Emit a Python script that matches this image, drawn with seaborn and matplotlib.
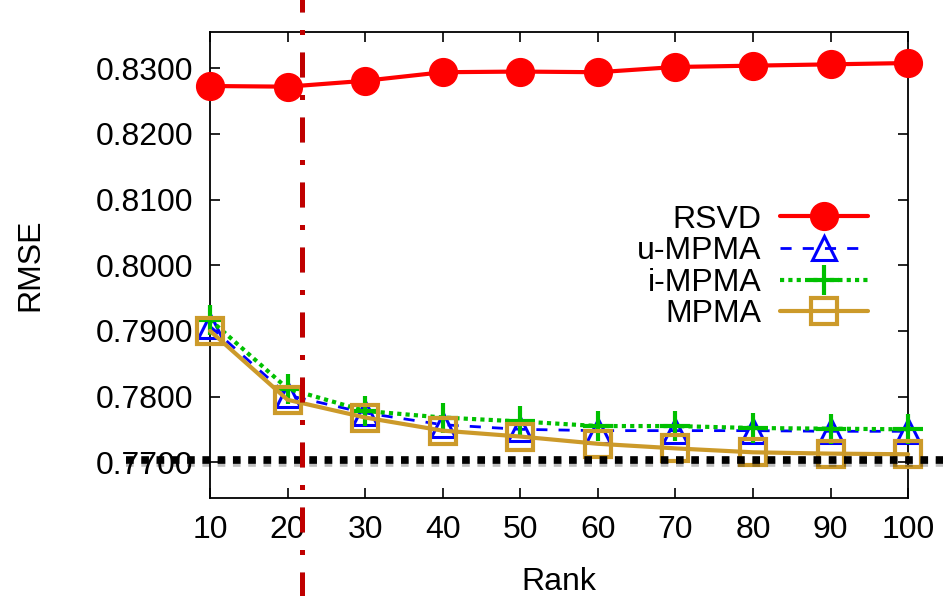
import matplotlib
matplotlib.use("Agg")
import matplotlib.pyplot as plt
import matplotlib.patheffects as pe
import seaborn as sns

# values
ranks = [10, 20, 30, 40, 50, 60, 70, 80, 90, 100]
rsvd = [0.8273, 0.8272, 0.8281, 0.8294, 0.8295, 0.8294, 0.8302, 0.8304, 0.8306, 0.8308]
u_mpma = [0.7907, 0.7802, 0.7775, 0.7757, 0.7750, 0.7748, 0.7748, 0.7748, 0.7747, 0.7747]
i_mpma = [0.7917, 0.7812, 0.7778, 0.7768, 0.7762, 0.7755, 0.7755, 0.7752, 0.7751, 0.7750]
mpma = [0.7900, 0.7795, 0.7768, 0.7748, 0.7739, 0.7728, 0.7721, 0.7715, 0.7713, 0.7712]
baseline = 0.7703
chosen_rank = 21.9
y_ticks = [0.77, 0.78, 0.79, 0.80, 0.81, 0.82, 0.83]

sns.set_style("ticks")
plt.rcParams['font.family'] = ['Liberation Sans', 'DejaVu Sans']
plt.rcParams['text.color'] = 'black'
plt.rcParams['axes.labelcolor'] = 'black'
plt.rcParams['xtick.color'] = 'black'
plt.rcParams['ytick.color'] = 'black'

fig = plt.figure(figsize=(9.43, 5.96), dpi=100)
ax = fig.add_axes([0.2227, 0.164, 0.7403, 0.782])

gold = '#cc9a2a'
sns.lineplot(x=ranks, y=rsvd, ax=ax, color='#ff0000', lw=3, marker='o', markersize=20,
             mec='#ff0000', mew=1, label='RSVD', clip_on=False, zorder=5)
sns.lineplot(x=ranks, y=u_mpma, ax=ax, color='#0000ff', lw=2, linestyle=(0, (4, 4)), marker='^',
             markersize=17, mfc='none', mec='#0000ff', mew=2.2, label='u-MPMA', clip_on=False, zorder=4)
sns.lineplot(x=ranks, y=i_mpma, ax=ax, color='#00c000', lw=3, linestyle=(0, (1, 1)), marker='+',
             markersize=21, mec='#00c000', mew=3, label='i-MPMA', clip_on=False, zorder=4)
sns.lineplot(x=ranks, y=mpma, ax=ax, color=gold, lw=3, marker='s', markersize=19,
             mfc='none', mec=gold, mew=3, label='MPMA', clip_on=False, zorder=4)

shadow = [pe.SimpleLineShadow(offset=(0, -2), alpha=0.25), pe.Normal()]
ax.plot([-0.12, 1.06], [baseline, baseline], transform=ax.get_yaxis_transform(), color='black',
        lw=5.5, linestyle=(0, (1, 1)), clip_on=False, zorder=6, path_effects=shadow)
ax.plot([chosen_rank, chosen_rank], [-0.22, 1.08], transform=ax.get_xaxis_transform(), color='#c00000',
        lw=3.6, linestyle=(0, (5, 3.5, 1, 3.5)), clip_on=False, zorder=7, path_effects=shadow)

ax.set_xlim(10, 100)
ax.set_ylim(0.7645, 0.8355)
ax.set_xticks(ranks)
ax.set_yticks(y_ticks)
ax.set_yticklabels([f"{t:.4f}" for t in y_ticks])
ax.tick_params(direction='in', length=7, width=1.2, top=True, right=True, labelsize=23, pad=12)
for s in ax.spines.values():
    s.set_visible(True)
    s.set_linewidth(1.3)
    s.set_color('black')
ax.set_xlabel("Rank", fontsize=23, labelpad=16)
ax.set_ylabel("RMSE", fontsize=23, labelpad=36)

ax.legend(loc='upper right', bbox_to_anchor=(0.943, 0.63), frameon=False, markerfirst=False,
          fontsize=23, handlelength=2.75, labelspacing=0.05, borderaxespad=0, borderpad=0,
          handletextpad=0.6, numpoints=1)

fig.savefig("out.png", dpi=100)
